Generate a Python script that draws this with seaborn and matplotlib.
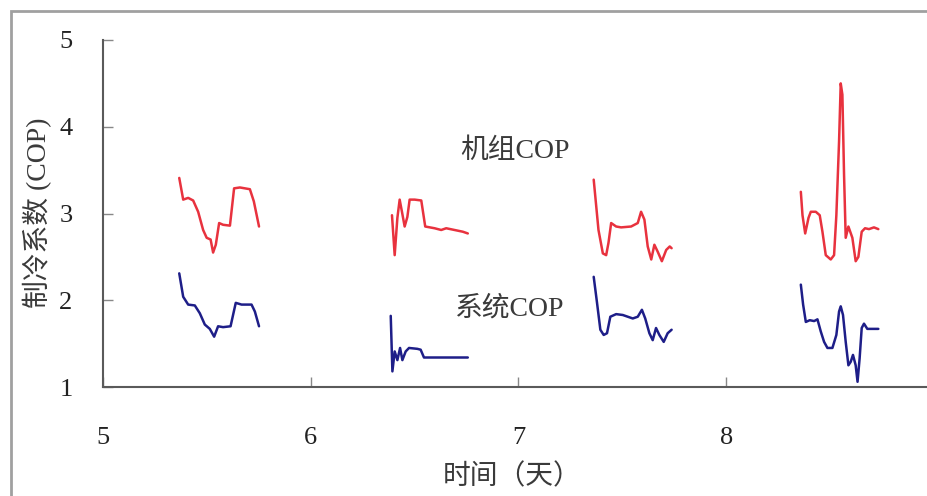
import numpy as np
import pandas as pd
import matplotlib
matplotlib.use("Agg")
import matplotlib.pyplot as plt
from matplotlib.patches import Rectangle
import seaborn as sns

# ---- data ----
# unit COP (机组COP), four days
unit_t1 = [5.367, 5.386, 5.410, 5.434, 5.458, 5.482, 5.499, 5.518, 5.530, 5.543, 5.559, 5.578, 5.611, 5.631, 5.659, 5.707, 5.726, 5.751]
unit_c1 = [3.41, 3.16, 3.18, 3.15, 3.02, 2.81, 2.72, 2.70, 2.55, 2.64, 2.89, 2.87, 2.86, 3.29, 3.30, 3.28, 3.14, 2.85]
unit_t2 = [6.391, 6.404, 6.417, 6.428, 6.439, 6.452, 6.465, 6.476, 6.500, 6.532, 6.551, 6.596, 6.628, 6.652, 6.692, 6.732, 6.756]
unit_c2 = [2.98, 2.52, 2.95, 3.16, 3.02, 2.85, 2.96, 3.16, 3.16, 3.15, 2.85, 2.83, 2.81, 2.83, 2.81, 2.79, 2.77]
unit_t3 = [7.362, 7.385, 7.406, 7.422, 7.433, 7.446, 7.470, 7.494, 7.542, 7.574, 7.590, 7.606, 7.622, 7.639, 7.654, 7.670, 7.690, 7.711, 7.728, 7.737]
unit_c3 = [3.39, 2.81, 2.54, 2.52, 2.66, 2.89, 2.85, 2.84, 2.85, 2.89, 3.02, 2.93, 2.62, 2.47, 2.64, 2.56, 2.45, 2.58, 2.62, 2.60]
unit_t4 = [8.359, 8.367, 8.380, 8.396, 8.407, 8.431, 8.450, 8.463, 8.479, 8.503, 8.519, 8.530, 8.543, 8.551, 8.559, 8.567, 8.575, 8.588, 8.607, 8.623, 8.636, 8.652, 8.668, 8.687, 8.711, 8.732]
unit_c4 = [3.25, 2.98, 2.77, 2.95, 3.02, 3.02, 2.98, 2.79, 2.52, 2.47, 2.52, 2.98, 3.83, 4.50, 4.37, 3.45, 2.72, 2.85, 2.72, 2.45, 2.50, 2.79, 2.83, 2.82, 2.84, 2.82]

# system COP (系统COP), four days
sys_t1 = [5.367, 5.386, 5.410, 5.442, 5.466, 5.490, 5.514, 5.535, 5.554, 5.578, 5.614, 5.639, 5.667, 5.715, 5.731, 5.751]
sys_c1 = [2.31, 2.04, 1.95, 1.94, 1.85, 1.72, 1.67, 1.58, 1.70, 1.69, 1.70, 1.97, 1.95, 1.95, 1.87, 1.70]
sys_t2 = [6.385, 6.393, 6.404, 6.417, 6.430, 6.441, 6.457, 6.473, 6.513, 6.529, 6.545, 6.756]
sys_c2 = [1.82, 1.18, 1.41, 1.31, 1.45, 1.31, 1.41, 1.45, 1.44, 1.43, 1.34, 1.34]
sys_t3 = [7.362, 7.378, 7.394, 7.410, 7.426, 7.442, 7.470, 7.502, 7.526, 7.550, 7.574, 7.594, 7.610, 7.630, 7.646, 7.662, 7.678, 7.699, 7.718, 7.737]
sys_c3 = [2.27, 1.97, 1.66, 1.60, 1.62, 1.81, 1.84, 1.83, 1.81, 1.79, 1.81, 1.89, 1.79, 1.62, 1.54, 1.68, 1.60, 1.52, 1.62, 1.66]
sys_t4 = [8.359, 8.370, 8.383, 8.402, 8.423, 8.439, 8.455, 8.471, 8.487, 8.511, 8.530, 8.543, 8.551, 8.562, 8.575, 8.588, 8.599, 8.610, 8.623, 8.632, 8.642, 8.652, 8.663, 8.679, 8.732]
sys_c4 = [2.18, 1.95, 1.75, 1.77, 1.76, 1.78, 1.64, 1.52, 1.45, 1.45, 1.60, 1.87, 1.93, 1.83, 1.52, 1.25, 1.29, 1.37, 1.25, 1.06, 1.33, 1.68, 1.73, 1.67, 1.67]

x_ticks = [5, 6, 7, 8, 9]
y_ticks = [1, 2, 3, 4, 5]
x_label = "时间（天）"
y_label = "制冷系数 (COP)"
unit_name = "机组COP"
sys_name = "系统COP"

# ---- long table ----
rows = []
for k, (t, c) in enumerate([(unit_t1, unit_c1), (unit_t2, unit_c2), (unit_t3, unit_c3), (unit_t4, unit_c4)]):
    rows.append(pd.DataFrame({"t": t, "cop": c, "series": unit_name, "seg": f"u{k}"}))
for k, (t, c) in enumerate([(sys_t1, sys_c1), (sys_t2, sys_c2), (sys_t3, sys_c3), (sys_t4, sys_c4)]):
    rows.append(pd.DataFrame({"t": t, "cop": c, "series": sys_name, "seg": f"s{k}"}))
df = pd.concat(rows, ignore_index=True)

sns.set_theme(style="white")
fam = ["Liberation Serif", "Noto Sans CJK SC", "DejaVu Sans"]
plt.rcParams["font.family"] = fam

W, H = 928, 496
fig = plt.figure(figsize=(W / 100, H / 100), dpi=100)
fig.patch.set_facecolor("white")

x0, x1 = 103, 934
ytop, ybot = 40, 387
ax = fig.add_axes([x0 / W, 1 - ybot / H, (x1 - x0) / W, (ybot - ytop) / H])
ax.set_facecolor("white")

sns.lineplot(data=df, x="t", y="cop", hue="series", units="seg", estimator=None,
             sort=False, palette={unit_name: "#e8323e", sys_name: "#1e1e88"},
             linewidth=1.8, legend=False, ax=ax)

ax.set_xlim(5, 9)
ax.set_ylim(1, 5)
ax.set_xticks(x_ticks)
ax.set_yticks(y_ticks)
ax.set_xticklabels([str(v) for v in x_ticks])
ax.set_yticklabels([str(v) for v in y_ticks])
ax.set_xlabel("")
ax.set_ylabel("")

for s in ["top", "right"]:
    ax.spines[s].set_visible(False)
for s in ["left", "bottom"]:
    ax.spines[s].set_color("#5a5a5a")
    ax.spines[s].set_linewidth(1.5)

ax.tick_params(axis="x", direction="in", length=7, width=1, color="#888888",
               labelsize=19, pad=29, labelcolor="#222222", bottom=True)
ax.tick_params(axis="y", direction="in", length=7, width=1, color="#888888",
               labelsize=19, pad=22, labelcolor="#222222", left=True)

ax.text(6.985, 3.715, unit_name, ha="center", va="center", fontsize=20, color="#3a3a3a", family=fam)
ax.text(6.955, 1.90, sys_name, ha="center", va="center", fontsize=20, color="#3a3a3a", family=fam)

fig.text(512 / W, 1 - 477 / H, x_label, ha="center", va="center", fontsize=20,
         color="#3a3a3a", family=fam)
fig.text(37 / W, 1 - 213 / H, y_label, ha="center", va="center", rotation=90,
         fontsize=20, color="#3a3a3a", family=fam)

frame = Rectangle((11 / W, -0.2), 1.3, 1.2 - 11 / H, transform=fig.transFigure,
                  fill=False, edgecolor="#a0a0a0", linewidth=2.0, clip_on=False)
fig.patches.append(frame)

fig.savefig("out.png", dpi=100, facecolor="white")
